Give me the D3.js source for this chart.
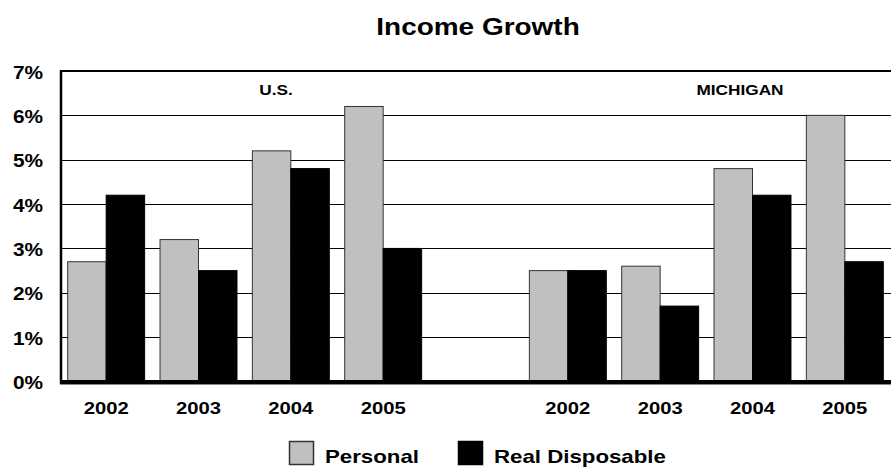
<!DOCTYPE html>
<html>
<head>
<meta charset="utf-8">
<script src="https://cdn.jsdelivr.net/npm/d3@7"></script>
<style>
  html, body { margin: 0; padding: 0; background: #fff; }
  svg { display: block; font-family: "Liberation Sans", Arial, sans-serif; font-weight: bold; }
</style>
</head>
<body>
<svg id="chart" width="891" height="467"></svg>
<script>
// Income growth, U.S. vs. Michigan, percent change by year
const years = ["2002", "2003", "2004", "2005"];
const regions = ["U.S.", "MICHIGAN"];
const usPersonal = [2.7, 3.2, 5.2, 6.2];
const usRealDisposable = [4.2, 2.5, 4.8, 3.0];
const miPersonal = [2.5, 2.6, 4.8, 6.0];
const miRealDisposable = [2.5, 1.7, 4.2, 2.7];
const seriesNames = ["Personal", "Real Disposable"];
const seriesColors = ["#c0c0c0", "#000000"];
const yTicks = [0, 1, 2, 3, 4, 5, 6, 7];

// Wide type: glyphs are stretched horizontally
const SX = 1.19;

const svg = d3.select("#chart");
const plotLeft = 60, plotRight = 891, plotTop = 71, plotBottom = 381.5;

// Slots: four U.S. years, an empty spacer, four Michigan years
const slots = [
  ...years.map((yr, i) => ({ key: "us-" + yr, year: yr, vals: [usPersonal[i], usRealDisposable[i]] })),
  { key: "gap", year: "", vals: [0, 0] },
  ...years.map((yr, i) => ({ key: "mi-" + yr, year: yr, vals: [miPersonal[i], miRealDisposable[i]] }))
];

const x = d3.scaleBand().domain(slots.map(d => d.key)).range([plotLeft, 891]).padding(0);
const xSub = d3.scaleBand().domain(seriesNames).range([0, x.bandwidth()]).paddingInner(0).paddingOuter(0.2);
const y = d3.scaleLinear().domain([0, 7]).range([plotBottom, plotTop]);

function label(g, text, px, py, size, anchor) {
  return g.append("text")
    .attr("transform", `translate(${px},${py}) scale(${SX},1)`)
    .attr("font-size", size)
    .attr("text-anchor", anchor || "middle")
    .attr("fill", "#000")
    .text(text);
}

// Gridlines
svg.append("g").selectAll("line")
  .data(yTicks.filter(v => v > 0 && v < 7))
  .join("line")
  .attr("x1", plotLeft).attr("x2", plotRight)
  .attr("y1", d => Math.round(y(d)) + 0.5).attr("y2", d => Math.round(y(d)) + 0.5)
  .attr("stroke", "#000").attr("stroke-width", 1);

// Top border
svg.append("line").attr("x1", plotLeft).attr("x2", plotRight)
  .attr("y1", y(7)).attr("y2", y(7)).attr("stroke", "#000").attr("stroke-width", 2);

// Bars
const groups = svg.append("g").selectAll("g")
  .data(slots).join("g")
  .attr("transform", d => `translate(${x(d.key)},0)`);

groups.selectAll("rect")
  .data(d => d.vals.map((v, i) => ({ name: seriesNames[i], v, i })))
  .join("rect")
  .attr("x", d => xSub(d.name))
  .attr("width", xSub.bandwidth())
  .attr("y", d => y(d.v))
  .attr("height", d => y(0) - y(d.v))
  .attr("fill", d => seriesColors[d.i])
  .attr("stroke", d => d.i === 0 ? "#333" : "#000")
  .attr("stroke-width", d => d.v > 0 ? 1 : 0);

// Left border
svg.append("line").attr("x1", plotLeft + 1).attr("x2", plotLeft + 1)
  .attr("y1", plotTop - 1).attr("y2", plotBottom + 2).attr("stroke", "#000").attr("stroke-width", 2.5);

// Baseline with a faint shadow
svg.append("rect").attr("x", plotLeft).attr("y", 380).attr("width", plotRight - plotLeft).attr("height", 4).attr("fill", "#000");
svg.append("line").attr("x1", plotLeft).attr("x2", plotRight).attr("y1", 384.5).attr("y2", 384.5)
  .attr("stroke", "#888").attr("stroke-width", 1);

// Y axis labels
const yAxisG = svg.append("g");
yTicks.forEach(v => label(yAxisG, v + "%", 43, y(v) + 7.5, 17.5, "end"));

// X axis labels
const xAxisG = svg.append("g");
slots.filter(d => d.year).forEach(d => label(xAxisG, d.year, x(d.key) + x.bandwidth() / 2, 414, 17, "middle"));

// Region labels
const regG = svg.append("g");
label(regG, regions[0], 276, 95, 14.5, "middle");
label(regG, regions[1], 740, 95, 14.5, "middle");

// Title
label(svg.append("g"), "Income Growth", 478, 35, 23.5, "middle");

// Legend
const legend = svg.append("g");
const legendItems = [
  { name: seriesNames[0], color: seriesColors[0], sx: 289, tx: 325 },
  { name: seriesNames[1], color: seriesColors[1], sx: 458, tx: 494 }
];
legendItems.forEach(d => {
  legend.append("rect").attr("x", d.sx + 0.5).attr("y", 441.5).attr("width", 24).attr("height", 23)
    .attr("fill", d.color).attr("stroke", d.color === "#000000" ? "#000" : "#333").attr("stroke-width", 1.5);
  label(legend, d.name, d.tx, 463, 18.7, "start");
});
</script>
</body>
</html>
